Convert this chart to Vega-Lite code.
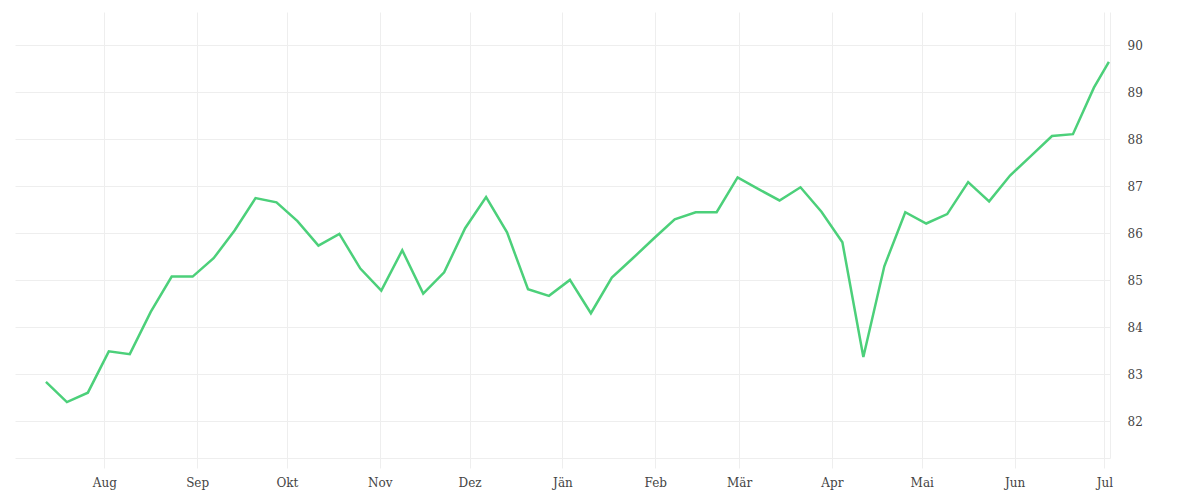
{
  "$schema": "https://vega.github.io/schema/vega-lite/v6.json",
  "width": 1095,
  "height": 446,
  "padding": {"left": 15, "top": 12, "right": 5, "bottom": 5},
  "background": "white",
  "config": {
    "view": {"stroke": null},
    "axis": {
      "labelFont": "DejaVu Serif",
      "labelFontSize": 12,
      "labelColor": "#444444",
      "gridColor": "#eeeeee",
      "domainColor": "#eeeeee",
      "tickColor": "#eeeeee",
      "title": null
    }
  },
  "data": {
    "values": [
      {"date": "2022-07-12T12:00:00Z", "value": 82.83},
      {"date": "2022-07-19T12:00:00Z", "value": 82.40},
      {"date": "2022-07-26T12:00:00Z", "value": 82.60},
      {"date": "2022-08-02T12:00:00Z", "value": 83.48},
      {"date": "2022-08-09T12:00:00Z", "value": 83.42},
      {"date": "2022-08-16T12:00:00Z", "value": 84.32},
      {"date": "2022-08-23T12:00:00Z", "value": 85.07},
      {"date": "2022-08-30T12:00:00Z", "value": 85.07},
      {"date": "2022-09-06T12:00:00Z", "value": 85.46},
      {"date": "2022-09-13T12:00:00Z", "value": 86.05},
      {"date": "2022-09-20T12:00:00Z", "value": 86.74},
      {"date": "2022-09-27T12:00:00Z", "value": 86.65},
      {"date": "2022-10-04T12:00:00Z", "value": 86.25},
      {"date": "2022-10-11T12:00:00Z", "value": 85.73},
      {"date": "2022-10-18T12:00:00Z", "value": 85.98},
      {"date": "2022-10-25T12:00:00Z", "value": 85.24},
      {"date": "2022-11-01T12:00:00Z", "value": 84.77},
      {"date": "2022-11-08T12:00:00Z", "value": 85.63},
      {"date": "2022-11-15T12:00:00Z", "value": 84.71},
      {"date": "2022-11-22T12:00:00Z", "value": 85.16},
      {"date": "2022-11-29T12:00:00Z", "value": 86.10},
      {"date": "2022-12-06T12:00:00Z", "value": 86.76},
      {"date": "2022-12-13T12:00:00Z", "value": 86.01},
      {"date": "2022-12-20T12:00:00Z", "value": 84.80},
      {"date": "2022-12-27T12:00:00Z", "value": 84.66},
      {"date": "2023-01-03T12:00:00Z", "value": 85.00},
      {"date": "2023-01-10T12:00:00Z", "value": 84.29},
      {"date": "2023-01-17T12:00:00Z", "value": 85.05},
      {"date": "2023-01-24T12:00:00Z", "value": 85.46},
      {"date": "2023-01-31T12:00:00Z", "value": 85.88},
      {"date": "2023-02-07T12:00:00Z", "value": 86.29},
      {"date": "2023-02-14T12:00:00Z", "value": 86.44},
      {"date": "2023-02-21T12:00:00Z", "value": 86.44},
      {"date": "2023-02-28T12:00:00Z", "value": 87.18},
      {"date": "2023-03-07T12:00:00Z", "value": 86.93},
      {"date": "2023-03-14T12:00:00Z", "value": 86.69},
      {"date": "2023-03-21T12:00:00Z", "value": 86.97},
      {"date": "2023-03-28T12:00:00Z", "value": 86.45},
      {"date": "2023-04-04T12:00:00Z", "value": 85.80},
      {"date": "2023-04-11T12:00:00Z", "value": 83.36},
      {"date": "2023-04-18T12:00:00Z", "value": 85.29},
      {"date": "2023-04-25T12:00:00Z", "value": 86.44},
      {"date": "2023-05-02T12:00:00Z", "value": 86.20},
      {"date": "2023-05-09T12:00:00Z", "value": 86.40},
      {"date": "2023-05-16T12:00:00Z", "value": 87.08},
      {"date": "2023-05-23T12:00:00Z", "value": 86.67},
      {"date": "2023-05-30T12:00:00Z", "value": 87.22},
      {"date": "2023-06-06T12:00:00Z", "value": 87.64},
      {"date": "2023-06-13T12:00:00Z", "value": 88.06},
      {"date": "2023-06-20T12:00:00Z", "value": 88.10},
      {"date": "2023-06-27T12:00:00Z", "value": 89.09},
      {"date": "2023-07-02T12:00:00Z", "value": 89.64}
    ]
  },
  "mark": {"type": "line", "color": "#4cd07a", "strokeWidth": 2.5, "strokeJoin": "miter"},
  "encoding": {
    "x": {
      "field": "date",
      "type": "temporal",
      "scale": {
        "type": "utc",
        "domain": [
          {"year": 2022, "month": 7, "date": 2, "hours": 4, "utc": true},
          {"year": 2023, "month": 7, "date": 2, "hours": 21, "utc": true}
        ]
      },
      "axis": {
        "values": [
          {"year": 2022, "month": 8, "date": 1, "utc": true},
          {"year": 2022, "month": 9, "date": 1, "utc": true},
          {"year": 2022, "month": 10, "date": 1, "utc": true},
          {"year": 2022, "month": 11, "date": 1, "utc": true},
          {"year": 2022, "month": 12, "date": 1, "utc": true},
          {"year": 2023, "month": 1, "date": 1, "utc": true},
          {"year": 2023, "month": 2, "date": 1, "utc": true},
          {"year": 2023, "month": 3, "date": 1, "utc": true},
          {"year": 2023, "month": 4, "date": 1, "utc": true},
          {"year": 2023, "month": 5, "date": 1, "utc": true},
          {"year": 2023, "month": 6, "date": 1, "utc": true},
          {"year": 2023, "month": 7, "date": 1, "utc": true}
        ],
        "labelExpr": "['Jän','Feb','Mär','Apr','Mai','Jun','Jul','Aug','Sep','Okt','Nov','Dez'][utcmonth(datum.value)]",
        "tickSize": 10,
        "labelPadding": 9,
        "grid": true
      }
    },
    "y": {
      "field": "value",
      "type": "quantitative",
      "scale": {"domain": [81.21, 90.7], "nice": false, "zero": false},
      "axis": {
        "orient": "right",
        "values": [82, 83, 84, 85, 86, 87, 88, 89, 90],
        "ticks": false,
        "labelPadding": 17,
        "labelOffset": 1,
        "grid": true
      }
    }
  }
}
